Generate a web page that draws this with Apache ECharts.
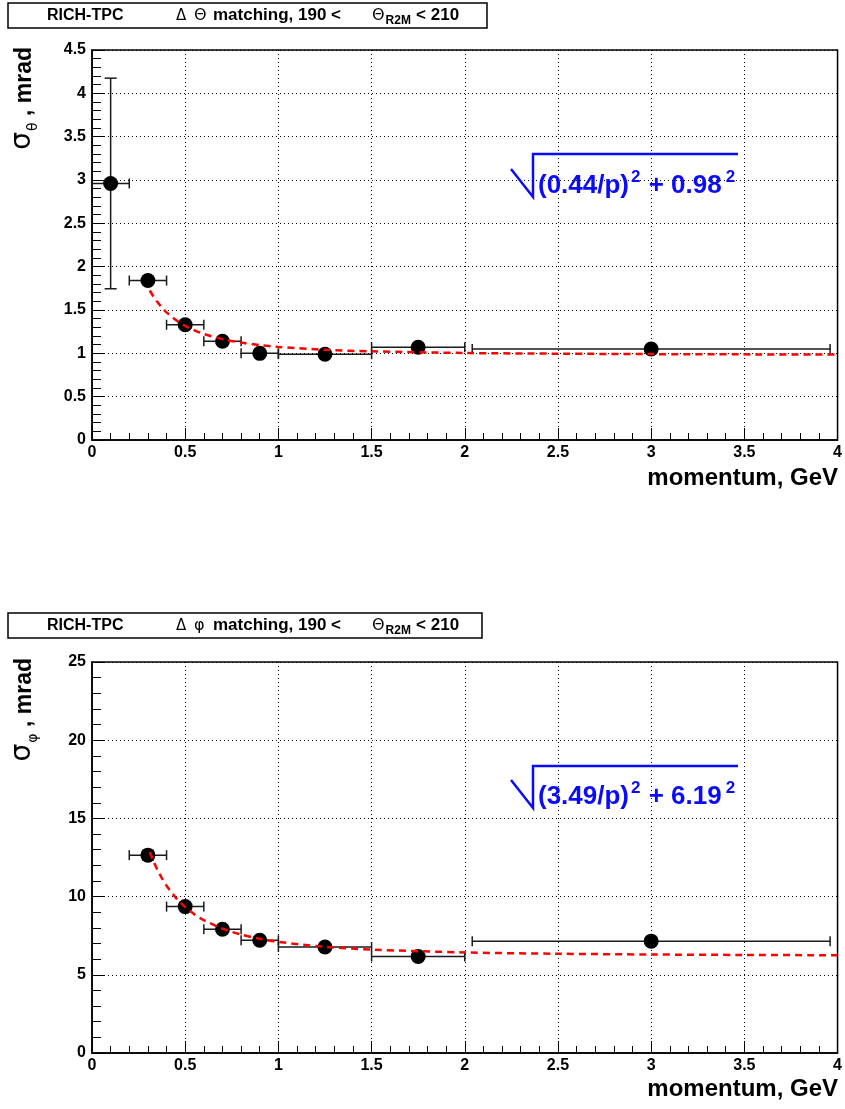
<!DOCTYPE html>
<html><head><meta charset="utf-8">
<script src="https://cdn.jsdelivr.net/npm/echarts@6/dist/echarts.min.js"></script>
<style>html,body{margin:0;padding:0;background:#fff}#c{width:845px;height:1109px}</style>
</head><body><div id="c"></div>
<script>
// ---------- data ----------
const momentumTicks = ['0','0.5','1','1.5','2','2.5','3','3.5','4'];
const thetaTicks = ['0','0.5','1','1.5','2','2.5','3','3.5','4','4.5'];
const phiTicks = ['0','5','10','15','20','25'];

const thetaP      = [0.1, 0.3, 0.5, 0.7, 0.9, 1.25, 1.75, 3.0];
const thetaPLow   = [0.0, 0.2, 0.4, 0.6, 0.8, 1.0, 1.5, 2.04];
const thetaPHigh  = [0.2, 0.4, 0.6, 0.8, 1.0, 1.5, 2.0, 3.96];
const thetaSigma  = [2.96, 1.84, 1.33, 1.14, 1.00, 0.99, 1.07, 1.05];
const thetaSigmaErr = [1.215, 0.03, 0.02, 0.02, 0.02, 0.02, 0.03, 0.03];

const phiP      = [0.3, 0.5, 0.7, 0.9, 1.25, 1.75, 3.0];
const phiPLow   = [0.2, 0.4, 0.6, 0.8, 1.0, 1.5, 2.04];
const phiPHigh  = [0.4, 0.6, 0.8, 1.0, 1.5, 2.0, 3.96];
const phiSigma  = [12.65, 9.36, 7.91, 7.21, 6.78, 6.17, 7.15];
const phiSigmaErr = [0.3, 0.2, 0.15, 0.12, 0.1, 0.12, 0.2];

// fitted curves sqrt((a/p)^2 + b^2) as drawn
const fitP     = [0.31,0.33,0.35,0.375,0.4,0.45,0.5,0.55,0.6,0.7,0.8,0.9,1.0,1.25,1.5,2.0,2.5,3.0,3.5,4.0];
const thetaFit = [1.725,1.655,1.594,1.529,1.473,1.384,1.317,1.265,1.224,1.164,1.124,1.095,1.074,1.041,1.023,1.004,0.996,0.991,0.988,0.986];
const phiFit   = [12.848,12.254,11.736,11.177,10.698,9.923,9.329,8.865,8.494,7.948,7.573,7.304,7.106,6.790,6.613,6.431,6.346,6.298,6.270,6.251];

// ---------- helpers ----------
const FONT = 'Liberation Sans';
const mctx = document.createElement('canvas').getContext('2d');
function measure(t, size, weight, fam) { mctx.font = weight + ' ' + size + 'px "' + fam + '"'; return mctx.measureText(t).width; }
function run(x0, base, parts, color, rightEnd) {
  const norm = parts.map(p => Object.assign({size:17, weight:'bold', family:FONT, dy:0, gap:0}, p));
  let total = 0; norm.forEach(p => { total += p.gap + measure(p.t, p.size, p.weight, p.family); });
  let x = (rightEnd !== undefined) ? rightEnd - total : x0;
  const out = [];
  norm.forEach(p => {
    if (p.x !== undefined) x = p.x;
    x += p.gap;
    out.push({type:'text', x:x, y: base + p.dy - 0.35 * p.size, silent:true, z:100,
      style:{text:p.t, fill:color, font: p.weight + ' ' + p.size + 'px "' + p.family + '"',
             align:'left', verticalAlign:'middle', textAlign:'left', textVerticalAlign:'middle'}});
    x += measure(p.t, p.size, p.weight, p.family);
  });
  return out;
}
function xAxisCfg(gi) {
  return {type:'value', gridIndex:gi, min:0, max:4, interval:0.5,
    axisLine:{show:true, onZero:false, lineStyle:{color:'#000', width:1.5}},
    axisTick:{show:true, inside:true, length:12, lineStyle:{color:'#000', width:1}},
    minorTick:{show:true, splitNumber:5, length:7, lineStyle:{color:'#000', width:1}},
    splitLine:{show:true, lineStyle:{color:'#000', width:1, type:[1,3]}},
    axisLabel:{color:'#000', fontSize:16, fontWeight:'bold', fontFamily:FONT, margin:5,
      showMinLabel:true, showMaxLabel:true, hideOverlap:false,
      formatter:(v) => momentumTicks[Math.round(v / 0.5)]}};
}
function yAxisCfg(gi, max, step, labels) {
  return {type:'value', gridIndex:gi, min:0, max:max, interval:step,
    axisLine:{show:true, onZero:false, lineStyle:{color:'#000', width:1.5}},
    axisTick:{show:true, inside:true, length:12, lineStyle:{color:'#000', width:1}},
    minorTick:{show:true, splitNumber:5, length:9, lineStyle:{color:'#000', width:1}},
    splitLine:{show:true, lineStyle:{color:'#000', width:1, type:[1,3]}},
    axisLabel:{color:'#000', fontSize:16, fontWeight:'bold', fontFamily:FONT, margin:6,
      showMinLabel:true, showMaxLabel:true, hideOverlap:false,
      formatter:(v) => labels[Math.round(v / step)]}};
}
function errSeries(gi, P, S, PL, PH, SE) {
  return {type:'custom', xAxisIndex:gi, yAxisIndex:gi, silent:true, clip:false, z:2,
    data: P.map((p, i) => [p, S[i], PL[i], PH[i], S[i] - SE[i], S[i] + SE[i]]),
    encode:{x:0, y:1},
    renderItem:(params, api) => {
      const p = api.value(0), y = api.value(1);
      const a = api.coord([api.value(2), y]), b = api.coord([api.value(3), y]);
      const c = api.coord([p, api.value(4)]), d = api.coord([p, api.value(5)]);
      const st = {stroke:'#1a1a1a', lineWidth:1.5};
      const L = (x1,y1,x2,y2) => ({type:'line', shape:{x1,y1,x2,y2}, style:st});
      return {type:'group', children:[
        L(a[0],a[1],b[0],b[1]), L(a[0],a[1]-5,a[0],a[1]+5), L(b[0],b[1]-5,b[0],b[1]+5),
        L(c[0],c[1],d[0],d[1]), L(c[0]-6,c[1],c[0]+6,c[1]), L(d[0]-6,d[1],d[0]+6,d[1])
      ]};
    }};
}
function markSeries(gi, P, S) {
  return {type:'scatter', xAxisIndex:gi, yAxisIndex:gi, silent:true, z:3, symbol:'circle', symbolSize:15,
    itemStyle:{color:'#000', opacity:1}, data:P.map((p,i)=>[p,S[i]])};
}
function fitSeries(gi, Y) {
  return {type:'line', xAxisIndex:gi, yAxisIndex:gi, silent:true, z:5, showSymbol:false, smooth:0.3,
    lineStyle:{color:'#ff0000', width:2.5, type:[7,5], opacity:1}, data:fitP.map((p,i)=>[p,Y[i]])};
}

// ---------- graphics (titles, formulas) ----------
const BLUE = '#0a0aff';
const G = [];
// title boxes
G.push({type:'rect', shape:{x:8, y:3, width:479, height:25}, style:{fill:'#fff', stroke:'#000', lineWidth:1.5}, z:90, silent:true});
G.push({type:'rect', shape:{x:8, y:613, width:474, height:25}, style:{fill:'#fff', stroke:'#000', lineWidth:1.5}, z:90, silent:true});
function titleParts(greek) {
  return [
    {t:'RICH-TPC', x:47, size:16},
    {t:'\u0394', x:176, weight:'normal', family:'DejaVu Sans', size:15},
    {t:greek, x:194, weight:'normal', family:'DejaVu Sans', size:16},
    {t:'matching, 190 <', x:213},
    {t:'\u0398', x:372, weight:'normal', family:'DejaVu Sans', size:16},
    {t:'R2M', size:12, dy:4, gap:1},
    {t:'<', gap:5},
    {t:'210', gap:5}
  ];
}
G.push(...run(0, 21, titleParts('\u0398'), '#000'));
G.push(...run(0, 631, titleParts('\u03C6'), '#000'));

// x-axis titles
G.push(...run(0, 487, [{t:'momentum, GeV', size:24}], '#000', 838));
G.push(...run(0, 1098, [{t:'momentum, GeV', size:24}], '#000', 838));

// y-axis titles (rotated)
function yTitle(x, yBottom, yTop, greek) {
  const parts = [
    {t:'\u03C3', weight:'normal', family:'DejaVu Sans', size:28},
    {t:greek, weight:'normal', family:'DejaVu Sans', size:14, dy:5, gap:1},
    {t:' , mrad', size:23}
  ];
  return {type:'group', x:x, y:yBottom, rotation:Math.PI/2, z:100, silent:true,
    children: run(0, 0, parts, '#000', yBottom - yTop)};
}
G.push(yTitle(33, 154, 47, '\u03B8'));
G.push(yTitle(33, 764, 658, '\u03C6'));

// formulas
function formula(base, barY, a, b) {
  const out = [];
  out.push({type:'polyline', shape:{points:[[511, base - 26],[533, base + 2],[533, barY],[738, barY]]}, style:{stroke:BLUE, lineWidth:2.5, fill:null}, z:100, silent:true});
  out.push(...run(538, base, [{t:'(' + a + '/p)', size:26}, {t:'2', size:17, dy:-12, gap:2}, {t:' + ' + b, size:26, gap:1}, {t:'2', size:17, dy:-12, gap:4}], BLUE));
  return out;
}
G.push(...formula(195, 154, '0.44', '0.98'));
G.push(...formula(806, 766, '3.49', '6.19'));

// ---------- chart ----------
const chart = echarts.init(document.getElementById('c'), null, {renderer:'canvas'});
chart.setOption({
  animation:false,
  backgroundColor:'#fff',
  grid:[
    {left:92, top:50, width:746, height:390, show:true, borderColor:'#000', borderWidth:1.5, backgroundColor:'transparent'},
    {left:92, top:662, width:746, height:391, show:true, borderColor:'#000', borderWidth:1.5, backgroundColor:'transparent'}
  ],
  xAxis:[xAxisCfg(0), xAxisCfg(1)],
  yAxis:[yAxisCfg(0, 4.5, 0.5, thetaTicks), yAxisCfg(1, 25, 5, phiTicks)],
  series:[
    errSeries(0, thetaP, thetaSigma, thetaPLow, thetaPHigh, thetaSigmaErr),
    markSeries(0, thetaP, thetaSigma),
    fitSeries(0, thetaFit),
    errSeries(1, phiP, phiSigma, phiPLow, phiPHigh, phiSigmaErr),
    markSeries(1, phiP, phiSigma),
    fitSeries(1, phiFit)
  ],
  graphic:{elements:G}
});
</script>
</body></html>
